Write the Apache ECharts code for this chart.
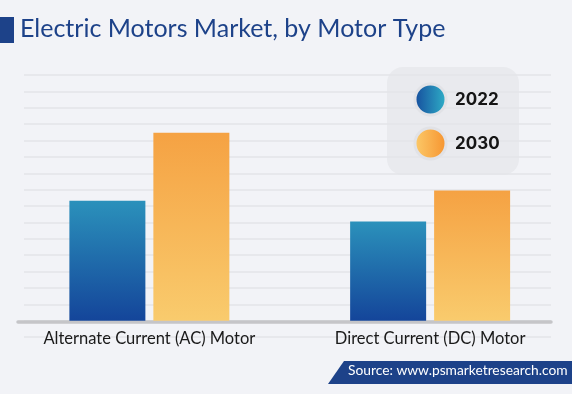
<!DOCTYPE html>
<html>
<head>
<meta charset="utf-8">
<script src="https://cdn.jsdelivr.net/npm/echarts@6/dist/echarts.min.js"></script>
<style>
html,body{margin:0;padding:0;background:#f2f3f7;}
#chart{width:572px;height:394px;}
</style>
</head>
<body>
<div id="chart"></div>
<script>
const categories = ['Alternate Current (AC) Motor', 'Direct Current (DC) Motor'];
const seriesNames = ['2022', '2030'];
const values2022 = [7.32, 6.05];
const values2030 = [11.48, 7.95];
const titleText = 'Electric Motors Market, by Motor Type';
const sourceText = 'Source: www.psmarketresearch.com';

const chart = echarts.init(document.getElementById('chart'));
const blueV = new echarts.graphic.LinearGradient(0, 0, 0, 1, [{offset:0,color:'#2b91bb'},{offset:1,color:'#14459a'}]);
const orangeV = new echarts.graphic.LinearGradient(0, 0, 0, 1, [{offset:0,color:'#f5a243'},{offset:1,color:'#f9cb6d'}]);
const blueH = new echarts.graphic.LinearGradient(0, 0, 1, 0, [{offset:0,color:'#154a9c'},{offset:1,color:'#30b3c9'}]);
const orangeH = new echarts.graphic.LinearGradient(0, 0, 1, 0, [{offset:0,color:'#fccc6c'},{offset:1,color:'#f6922d'}]);

const option = {
  backgroundColor: '#f2f3f7',
  animation: false,
  textStyle: { fontFamily: 'Lato' },
  grid: [
    { left: 9, right: 1.5, top: 75, bottom: 73.3 },
    { left: 24, right: 21, top: 75, bottom: 56.9 },
    { left: 18, right: 21, top: 75, bottom: 72 }
  ],
  graphic: [
    { type: 'rect', left: 387, top: 67, z: 0, shape: { width: 132, height: 108, r: 16 }, style: { fill: '#e9eaee' } },
    { type: 'rect', left: 0, top: 17, shape: { width: 14, height: 26 }, style: { fill: '#1d4289' } },
    { type: 'text', left: 20, top: 16, style: { text: titleText, fill: '#1d4289', font: '25px Lato' } },
    { type: 'polygon', shape: { points: [[328,384],[344,361],[572,361],[572,384]] }, style: { fill: '#1d4289' } },
    { type: 'text', left: 348, top: 364, style: { text: sourceText, fill: '#ffffff', font: '13.8px Lato' } }
  ],
  legend: {
    orient: 'vertical',
    left: 408.5,
    top: 77.5,
    itemWidth: 31,
    itemHeight: 31,
    itemGap: 10,
    icon: 'circle',
    textStyle: { fontFamily: 'Inter', fontWeight: 'bold', fontSize: 17, color: '#151515', padding: [0,0,0,4] },
    data: [
      { name: seriesNames[0], itemStyle: { color: blueH, borderColor: '#e1e2e6', borderWidth: 3 } },
      { name: seriesNames[1], itemStyle: { color: orangeH, borderColor: '#e1e2e6', borderWidth: 3 } }
    ]
  },
  xAxis: [
    { type: 'category', gridIndex: 0, data: categories,
      axisLine: { show: false }, axisTick: { show: false },
      axisLabel: { fontFamily: 'Lato', fontSize: 16.5, color: '#1a1a1a', margin: 9 } },
    { type: 'value', gridIndex: 1, show: false },
    { type: 'value', gridIndex: 2, min: 0, max: 1,
      axisLine: { show: true, onZero: false, lineStyle: { color: '#c5c5c8', width: 3.5 } },
      axisTick: { show: false }, axisLabel: { show: false }, splitLine: { show: false } }
  ],
  yAxis: [
    { type: 'value', gridIndex: 0, min: 0, max: 15, interval: 1, show: false },
    { type: 'value', gridIndex: 1, min: -1, max: 15, interval: 1,
      axisLine: { show: false }, axisTick: { show: false }, axisLabel: { show: false },
      splitLine: { show: true, lineStyle: { color: '#e3e4e9', width: 1.5 } } },
    { type: 'value', gridIndex: 2, show: false, min: 0, max: 1 }
  ],
  series: [
    { name: seriesNames[0], type: 'bar', xAxisIndex: 0, yAxisIndex: 0, data: values2022,
      barWidth: 76, barGap: '10.5%', itemStyle: { color: blueV }, z: 3 },
    { name: seriesNames[1], type: 'bar', xAxisIndex: 0, yAxisIndex: 0, data: values2030,
      barWidth: 76, barGap: '10.5%', itemStyle: { color: orangeV }, z: 3 }
  ]
};
chart.setOption(option);
</script>
</body>
</html>
